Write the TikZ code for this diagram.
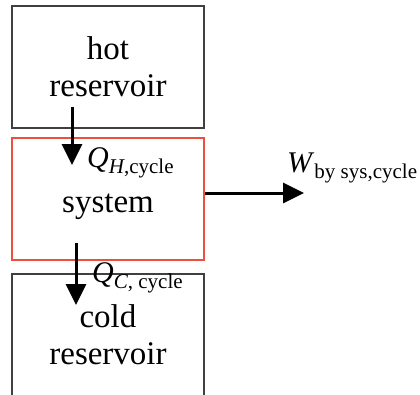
\documentclass[tikz,border=0pt]{standalone}
\usepackage{amsmath}
\usepackage{fontspec}
\setmainfont{Liberation Serif}
\usetikzlibrary{arrows.meta}
\definecolor{boxgray}{HTML}{404040}
\definecolor{sysred}{HTML}{EE5040}
\tikzset{
  >={Triangle[length=21pt,width=20pt]},
  resbox/.style={draw=boxgray,line width=1.8pt,minimum width=192pt,
    minimum height=122pt,align=center,inner sep=0pt,
    font=\fontsize{33}{37}\selectfont},
  sysbox/.style={draw=sysred,line width=1.8pt,minimum width=192pt,
    minimum height=122pt,inner sep=0pt},
  boxtxt/.style={anchor=base,inner sep=0pt,font=\fontsize{33}{37}\selectfont},
  flow/.style={->,line width=3pt},
  flowlbl/.style={anchor=base west,inner sep=0pt,
    font=\fontsize{30}{36}\selectfont},
}
\begin{document}
\begin{tikzpicture}[x=1pt,y=-1pt]
  \useasboundingbox (0,0) rectangle (420,394);
  \clip (0,0) rectangle (420,394);
  % reservoirs and system
  \node[resbox] (hot) at (108,67) {hot\\reservoir};
  \node[sysbox] (sys) at (108,199) {};
  \node[boxtxt] (systxt) at (108,212) {system};
  \node[resbox] (cold) at (108,335) {cold\\reservoir};
  % heat and work flows
  \coordinate (qhfrom) at (72,107);
  \coordinate (qhto) at (72,165);
  \coordinate (qcfrom) at (76,243);
  \coordinate (qcto) at (76,305);
  \coordinate (wto) at (304,193);
  \draw[flow] (qhfrom) -- (qhto);
  \draw[flow] (sys.east |- wto) -- (wto);
  \draw[flow] (qcfrom) -- (qcto);
  \node[flowlbl] (qh) at (87,167) {\textit{Q}$_{\textit{H}\text{,cycle}}$};
  \node[flowlbl] (w) at (287,172) {\textit{W}$_{\text{by sys,cycle}}$};
  \node[flowlbl] (qc) at (92,282) {\textit{Q}$_{\textit{C}\text{, cycle}}$};
\end{tikzpicture}
\end{document}
